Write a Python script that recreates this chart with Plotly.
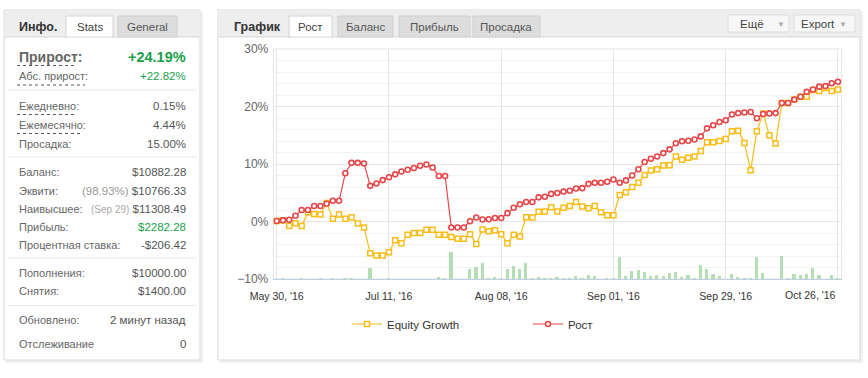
import plotly.graph_objects as go

W, H = 868, 378
FONT = "Liberation Sans, Arial, sans-serif"

# ---------------- data ----------------
tick_index = [0, 18, 36, 54, 72, 90]
tick_labels = ["May 30, '16", "Jul 11, '16", "Aug 08, '16", "Sep 01, '16", "Sep 29, '16", "Oct 26, '16"]

growth = [0.1, 0.2, 0.3, 1.0, 2.0, 2.0, 2.7, 2.7, 3.1, 3.6, 3.6,
          8.4, 10.2, 10.2, 10.1, 6.2, 6.6, 7.2, 7.7, 8.2, 8.7, 9.0, 9.3,
          9.7, 9.9, 9.4, 7.9, 7.9,
          -1.05, -1.05, -1.05, 0.05, 0.7, 0.35, 0.4, 0.6, 0.6,
          1.45, 2.4, 3.0, 3.4, 3.4, 4.2, 4.3, 4.8,
          4.95, 5.2, 5.35, 5.75, 5.8, 6.55, 6.75, 6.75, 6.9, 7.3,
          6.75, 7.15, 8.0, 9.1, 10.35, 10.9, 11.3, 11.9, 12.55, 13.6, 13.95, 14.05, 14.25, 14.8,
          16.2, 16.75, 17.3, 17.6, 18.6, 18.85, 18.95, 19.05, 17.95, 18.7, 18.8, 18.85,
          20.6, 20.6, 21.2, 21.7, 22.55, 22.95, 23.45, 23.55, 24.05, 24.3]

equity = [0.1, 0.2, -0.8, -0.3, -0.8, 1.6, 1.3, 1.2, 3.2, 0.5, 1.2,
          0.5, 0.75, -0.35, -1.05, -5.5, -5.9, -5.9, -5.35, -3.25, -3.8, -2.3, -2.0,
          -2.0, -1.45, -1.45, -2.3, -2.3,
          -2.7, -3.0, -3.0, -2.2, -3.9, -1.4, -1.7, -1.5, -2.2,
          -3.8, -2.3, -2.6, 0.75, 0.7, 1.7, 1.75, 2.5,
          1.75, 2.4, 2.7, 3.4, 2.6, 2.3, 2.7, 1.6, 1.1, 1.1,
          4.6, 5.1, 6.0, 6.75, 8.1, 8.85, 9.1, 9.75, 9.8, 11.3, 10.75, 11.1, 11.3, 12.25,
          13.8, 13.8, 14.0, 14.35, 15.7, 15.8, 13.65, 8.9, 15.7, 18.8, 15.0, 13.55,
          20.6, 20.6, 21.2, 21.7, 21.7, 22.85, 22.7, 23.2, 22.7, 22.95]

volume = [0, 1, 0, 0, 1, 0, 0, 1, 0, 1, 0,
          1, 1, 0, 0, 11, 0, 0, 1, 0, 0, 0, 0,
          0, 0, 0, 1.5, 1,
          27, 0, 0, 9.7, 11.7, 15.7, 1, 2.5, 1,
          9.7, 12.7, 9.7, 15.7, 1, 1.5, 1, 1,
          1.7, 1, 1, 2.7, 1, 3.8, 2.7, 0, 1, 1,
          21.7, 2.7, 8, 9, 6.7, 2.7, 3.8, 2.7, 5.7, 6.8, 1.7, 3.8, 1, 14,
          10, 4.7, 2.7, 0, 4.7, 1.7, 1, 1, 22, 6, 0, 0,
          23, 1, 4.7, 3.7, 4.7, 10.7, 3.7, 0, 3.7, 1]

idx = list(range(len(growth)))

stats_rows = [
    ("Ежедневно:", "0.15%", 106),
    ("Ежемесячно:", "4.44%", 125),
    ("Просадка:", "15.00%", 144),
    ("Баланс:", "$10882.28", 172.5),
    ("Эквити:", "<span style='color:#999'>(98.93%)</span> $10766.33", 190.5),
    ("Наивысшее:", "<span style='color:#aaa;font-size:10px'>(Sep 29)</span> $11308.49", 208.5),
    ("Прибыль:", "<span style='color:#1a9f4b'>$2282.28</span>", 226.5),
    ("Процентная ставка:", "-$206.42", 244.5),
    ("Пополнения:", "$10000.00", 273),
    ("Снятия:", "$1400.00", 291),
    ("Обновлено:", "2 минут назад", 320),
    ("Отслеживание", "0", 343.5),
]

YELLOW = "#f8bd19"
RED = "#e5474a"
GREEN = "#1a9f4b"


def px(v):
    return v / W


def py(v):
    return 1 - v / H


fig = go.Figure()
fig.add_trace(go.Bar(x=idx, y=volume, yaxis="y2", width=0.5,
                     marker=dict(color="#b4dfb4", line=dict(width=0)),
                     showlegend=False, hoverinfo="skip"))
fig.add_trace(go.Scatter(x=idx, y=equity, mode="lines+markers", name="Equity Growth",
                         line=dict(color=YELLOW, width=1.2),
                         marker=dict(symbol="square", size=5, color="white",
                                     line=dict(color=YELLOW, width=1.5))))
fig.add_trace(go.Scatter(x=idx, y=growth, mode="lines+markers", name="Рост",
                         line=dict(color=RED, width=1.2),
                         marker=dict(symbol="circle", size=5, color="white",
                                     line=dict(color=RED, width=1.6))))

shapes = []
annotations = []


def rect(x0, y0, x1, y1, fill, line=None, lw=1, layer="below"):
    shapes.append(dict(type="rect", xref="paper", yref="paper",
                       x0=px(x0), x1=px(x1), y0=py(y1), y1=py(y0),
                       fillcolor=fill, line=dict(color=line or fill, width=lw if line else 0),
                       layer=layer))


def hline(x0, x1, y, color, dash="solid", width=1):
    shapes.append(dict(type="line", xref="paper", yref="paper",
                       x0=px(x0), x1=px(x1), y0=py(y), y1=py(y),
                       line=dict(color=color, width=width, dash=dash), layer="above"))


def text(x, y, s, size=11, color="#555", anchor="left", bold=False):
    if bold:
        s = "<b>" + s + "</b>"
    annotations.append(dict(xref="paper", yref="paper", x=px(x), y=py(y), text=s,
                            showarrow=False, xanchor=anchor, yanchor="middle",
                            font=dict(family=FONT, size=size, color=color)))


# ---- panel shadows and bodies ----
rect(6, 12, 203, 363, "rgba(0,0,0,0.06)")
rect(220, 12, 863, 363, "rgba(0,0,0,0.06)")
rect(4, 10, 200, 360, "white", "#d9d9d9")
rect(218, 10, 860, 360, "white", "#d9d9d9")

# ---- left header ----
rect(4.5, 10.5, 199.5, 37, "#eeeeee")
hline(4.5, 199.5, 37, "#d6d6d6")
rect(66, 16, 113, 37.5, "white", "#d4d4d4")
rect(67, 36, 112, 38, "white")
rect(118, 16, 177, 37, "#dddddd", "#cfcfcf")
text(17, 27, "Инфо.", 12.5, "#333", bold=True)
text(89.5, 27, "Stats", 11.5, "#444", anchor="center")
text(147.5, 27, "General", 11.5, "#555", anchor="center")

# ---- left stats ----
text(17, 57, "Прирост:", 14, "#666", bold=True)
text(187.5, 57, "+24.19%", 14.5, GREEN, anchor="right", bold=True)
text(17, 76.5, "Абс. прирост:", 11, "#666")
text(187.5, 76.5, "+22.82%", 11.5, GREEN, anchor="right")
hline(17, 77, 65.5, "#555", "dot")
hline(17, 85, 85, "#555", "dot")
hline(17, 77, 114.5, "#555", "dot")
hline(17, 83, 133.5, "#555", "dot")
for sy in (90, 157, 258, 305.5):
    hline(8, 197, sy, "#e8e8e8")
for lab, val, yy in stats_rows:
    text(17, yy, lab, 11, "#666")
    text(187.5, yy, val, 11.5, "#555", anchor="right")

# ---- right header ----
rect(218.5, 10.5, 859.5, 37, "#eeeeee")
hline(218.5, 859.5, 37, "#d6d6d6")
rect(289, 16, 332, 37.5, "white", "#d4d4d4")
rect(290, 36, 331, 38, "white")
for x0, x1 in ((338, 393), (399, 470), (473, 540)):
    rect(x0, 16, x1, 37, "#dddddd", "#cfcfcf")
text(232, 27, "График", 12.5, "#333", bold=True)
text(310.5, 27, "Рост", 11.5, "#444", anchor="center")
text(365.5, 27, "Баланс", 11.5, "#555", anchor="center")
text(434.5, 27, "Прибыль", 11.5, "#555", anchor="center")
text(506.5, 27, "Просадка", 11.5, "#555", anchor="center")
rect(728, 15, 789, 32, "#f7f7f7", "#dcdcdc")
rect(794, 15, 855, 32, "#f7f7f7", "#dcdcdc")
text(752, 24, "Ещё", 11.5, "#444", anchor="center")
text(781, 24, "▼", 8, "#aaa", anchor="center")
text(818, 24, "Export", 11.5, "#444", anchor="center")
text(843, 24, "▼", 8, "#aaa", anchor="center")

# ---- plot frame ----
shapes.append(dict(type="rect", xref="paper", yref="paper",
                   x0=px(273.3), x1=px(841.7), y0=py(279), y1=py(49),
                   line=dict(color="#e3e3e3", width=1), layer="below"))

# last tick label justified to the right edge like the original
annotations.append(dict(xref="x", yref="paper", x=tick_index[-1], y=py(294.5),
                        text=tick_labels[-1], showarrow=False, xanchor="right",
                        yanchor="middle", font=dict(family=FONT, size=10.5, color="#333")))

fig.update_layout(
    width=W, height=H, autosize=False,
    margin=dict(l=0, r=0, t=0, b=0, pad=0, autoexpand=False),
    paper_bgcolor="white", plot_bgcolor="rgba(0,0,0,0)",
    font=dict(family=FONT),
    bargap=0,
    xaxis=dict(domain=[px(273.3), px(841.7)], range=[-0.55, 90.6],
               tickmode="array", tickvals=tick_index,
               ticktext=tick_labels[:-1] + [""], automargin=False,
               showgrid=True, gridcolor="#e6e6e6", gridwidth=1,
               showline=True, linecolor="#c0d0e0", linewidth=1,
               zeroline=False, ticks="", ticklabelstandoff=7,
               tickfont=dict(family=FONT, size=10.5, color="#333")),
    yaxis=dict(domain=[py(279), py(49)], range=[-10, 30], dtick=10,
               ticksuffix="%", showgrid=True, gridcolor="#e6e6e6", automargin=False,
               minor=dict(dtick=2, showgrid=True, gridcolor="#f3f3f3"),
               zeroline=False, showline=False, ticks="", ticklabelstandoff=4,
               tickfont=dict(family=FONT, size=12, color="#666")),
    yaxis2=dict(overlaying="y", range=[0, 230], visible=False, showgrid=False,
                automargin=False),
    legend=dict(orientation="h", x=px(347), y=py(324), xanchor="left", yanchor="middle",
                font=dict(family=FONT, size=11.5, color="#333"),
                bgcolor="rgba(0,0,0,0)", entrywidth=136, entrywidthmode="pixels",
                itemwidth=30),
    shapes=shapes,
    annotations=annotations,
)

fig.write_html("out.html", config={"displayModeBar": False},
               post_script="document.body.style.margin='0';document.body.style.overflow='hidden';")
